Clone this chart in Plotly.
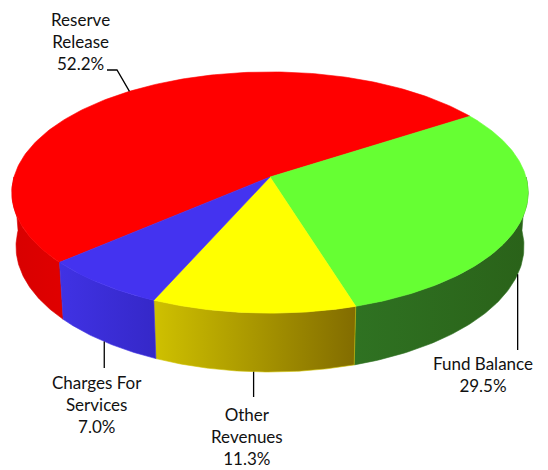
import numpy as np
import plotly.graph_objects as go

# ---- data ----
categories = ["Reserve Release", "Fund Balance", "Other Revenues", "Charges For Services"]
label_text = ["Reserve<br>Release", "Fund Balance", "Other<br>Revenues", "Charges For<br>Services"]
shares = [52.2, 29.5, 11.3, 7.0]

# ---- styling ----
top_colors = ["#FF0000", "#66FF33", "#FFFF00", "#4433F0"]
side_scales = [
    [[0, "#D80000"], [1, "#E00000"]],
    [[0, "#2F7222"], [1, "#2A6219"]],
    [[0, "#CFC100"], [1, "#826C00"]],
    [[0, "#4032E4"], [1, "#3528C8"]],
]
W, H = 548, 470

# perspective camera for the tilted disk
CX, CY = 270.0, 177.0      # screen position of the disk centre
K = 1764.0                 # focal scale
D = 6.89                   # camera distance (disk radius = 1)
TILT = np.radians(27.6)    # camera elevation
THICK = 0.24               # disk thickness
START = 221.2              # angle where the first slice begins (clockwise sweep)
c, s = np.cos(TILT), np.sin(TILT)


def project(phi_deg, z):
    phi = np.radians(np.asarray(phi_deg, dtype=float))
    X, Y = np.cos(phi), np.sin(phi)
    depth = D + Y * c - z * s
    return CX + K * X / depth, CY - K * (Y * s + z * c) / depth


# slice angle ranges (counter-clockwise degrees), swept clockwise from START
bounds = []
a = START
for v in shares:
    span = 360.0 * v / sum(shares)
    bounds.append((a - span, a))
    a -= span

fig = go.Figure()

# side walls: only the front half of the rim (180..360 deg) faces the viewer
for (lo, hi), scale in zip(bounds, side_scales):
    for shift in (0, -360, 360):
        l, h = max(lo + shift, -180), min(hi + shift, 0)
        if h <= l:
            continue
        ang = np.linspace(l, h, 80)
        xt, yt = project(ang, 0.0)
        xb, yb = project(ang[::-1], -THICK)
        fig.add_trace(go.Scatter(
            x=np.concatenate([xt, xb, xt[:1]]),
            y=np.concatenate([yt, yb, yt[:1]]),
            mode="lines", line=dict(width=0.6, color=scale[0][1]),
            fill="toself",
            fillgradient=dict(type="horizontal", colorscale=scale),
            hoverinfo="skip", showlegend=False,
        ))

# top faces
for (lo, hi), col, name in zip(bounds, top_colors, categories):
    ang = np.linspace(lo, hi, 200)
    xa, ya = project(ang, 0.0)
    fig.add_trace(go.Scatter(
        x=np.concatenate([[CX], xa, [CX]]),
        y=np.concatenate([[CY], ya, [CY]]),
        mode="lines", line=dict(width=0.6, color=col),
        fill="toself", fillcolor=col, name=name,
        hoverinfo="name", showlegend=False,
    ))

# labels and leader lines
label_font = dict(family="Lato, Calibri, sans-serif", size=17, color="#111111")
label_pos = [(80, 41), (483, 374.5), (247, 436), (97, 404.5)]
leader_ends = [None, 350, 397, 368]

for i, ((lo, hi), txt, v) in enumerate(zip(bounds, label_text, shares)):
    mid = (lo + hi) / 2
    if leader_ends[i] is None:
        px, py = project(mid, 0.0)
        lx = [float(px), 117, 107]
        ly = [float(py), 70, 70]
    else:
        px, py = project(mid, -THICK)
        lx = [float(px), float(px)]
        ly = [float(py), leader_ends[i]]
    fig.add_trace(go.Scatter(x=lx, y=ly, mode="lines",
                             line=dict(color="black", width=1.3),
                             hoverinfo="skip", showlegend=False))
    fig.add_annotation(x=label_pos[i][0], y=label_pos[i][1],
                       text=f"{txt}<br>{v:.1f}%", showarrow=False,
                       xanchor="center", yanchor="middle", align="center",
                       font=label_font)

fig.update_xaxes(range=[0, W], visible=False, fixedrange=True)
fig.update_yaxes(range=[H, 0], visible=False, fixedrange=True)
fig.update_layout(width=W, height=H, margin=dict(l=0, r=0, t=0, b=0),
                  paper_bgcolor="white", plot_bgcolor="white")

fig.write_html("out.html")
